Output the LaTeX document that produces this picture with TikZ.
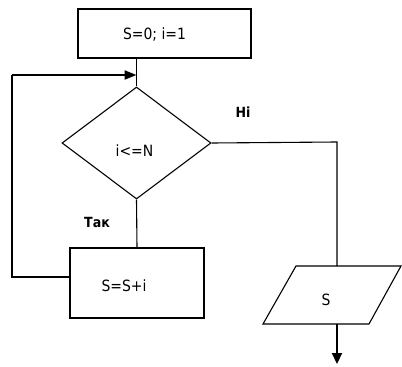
\documentclass[tikz,border=0pt]{standalone}
\usepackage{fontspec}
\setmainfont{DejaVu Sans Condensed}
\usetikzlibrary{shapes.geometric, arrows.meta}
\begin{document}
\begin{tikzpicture}[x=1pt,y=-1pt,
  txt/.style={font=\fontsize{15.5}{17}\selectfont},
  lbl/.style={font=\fontsize{14}{16}\selectfont\bfseries},
  boxst/.style={draw, line width=1.1pt, inner sep=0pt, minimum width=#1},
  thin/.style={line width=1.1pt},
  thick/.style={line width=2.2pt}
]
\useasboundingbox (0,0) rectangle (402,367);
% nodes
\node[boxst=173pt, minimum height=49pt, label={[txt,xshift=-10pt,yshift=-1pt]center:S=0; i=1}] (t) at (164.5,33.5) {};
\node[draw, diamond, line width=1.1pt, inner sep=0pt, minimum width=149pt, minimum height=112pt,
      label={[txt,xshift=-2pt,yshift=-8pt]center:i<=N}] (d) at (136.5,143) {};
\node[boxst=134pt, minimum height=70pt, label={[txt,xshift=-13pt,yshift=-3pt]center:S=S+i}] (b) at (137,283) {};
\node[txt] (p) at (326,300) {S};
\draw[thin] (296,266) -- (401,266) -- (369,324) -- (263,324) -- cycle;
\node[lbl] (no) at (243,112) {Ні};
\node[lbl] (yes) at (97,222) {Так};
% coordinates
\coordinate (j) at (d.north |- 0,75);
\coordinate (lt) at (12,75);
\coordinate (lb) at (12,277);
\coordinate (rx) at (337,142);
\coordinate (pin) at (337,266);
\coordinate (pout) at (337,324);
\coordinate (end) at (337,364);
% connectors
\draw[thin] (t.south -| d.north) -- (d.north);
\draw[thin] (d.south) -- (b.north);
\draw[thin] (b.west |- lb) -- (lb) -- (12,75);
\draw[thick, -{Triangle[length=12pt,width=9pt]}] (lt) -- (j);
\draw[thin] (d.east) -- (rx) -- (pin);
\draw[thick, -{Triangle[length=11pt,width=10pt]}] (pout) -- (end);
\end{tikzpicture}
\end{document}
